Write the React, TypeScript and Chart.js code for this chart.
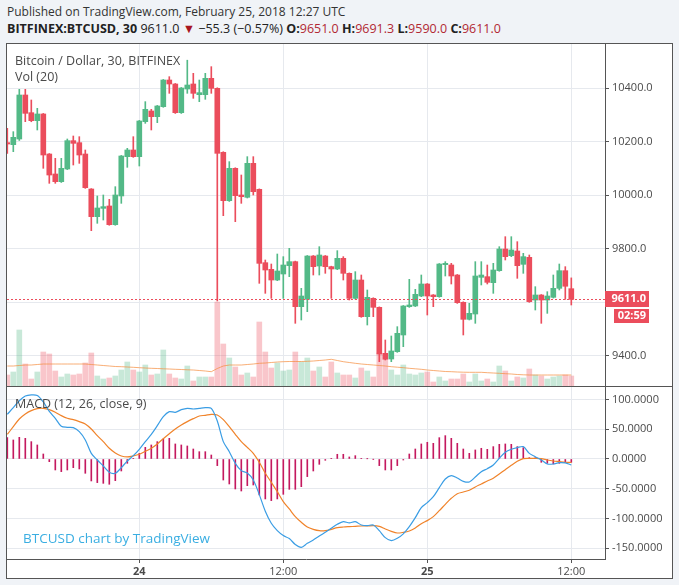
import React, { useEffect, useRef } from "react";
import { Chart, registerables } from "chart.js";
Chart.register(...registerables);

// ---- data (30-minute candles, Feb 23 13:00 -> Feb 25 12:00 UTC) ----
const opens = [10196.8,10189.3,10210.5,10375.0,10308.9,10279.0,10304.0,10154.4,10079.7,10051.0,10098.4,10204.3,10196.8,10154.4,10023.6,9920.2,9951.3,9960.1,9890.3,9997.5,
10144.5,10169.4,10144.5,10275.3,10315.2,10294.0,10331.4,10431.0,10416.1,10308.9,10397.4,10416.1,10376.2,10376.2,10437.3,10399.9,10160.7,9980.0,10100.9,10001.2,
9992.5,10119.5,10022.4,9748.2,9723.3,9683.4,9705.9,9737.0,9752.0,9583.8,9611.2,9773.1,9735.8,9773.1,9733.3,9724.6,9764.5,9708.4,9614.9,9683.4,
9546.4,9614.9,9581.3,9409.3,9388.1,9415.6,9477.9,9583.8,9586.3,9623.6,9668.5,9627.4,9621.1,9740.8,9739.5,9702.1,9600.0,9536.4,9556.3,9693.4,
9695.9,9673.5,9718.3,9799.3,9774.4,9791.8,9742.0,9768.2,9608.7,9627.4,9608.7,9618.6,9652.3,9718.3,9651.0];
const highs = [10250.4,10237.9,10396.2,10396.2,10356.3,10325.1,10306.0,10156.0,10138.2,10138.2,10210.5,10221.7,10219.2,10169.4,10025.0,9997.5,10001.2,9985.0,10032.3,10149.0,
10175.6,10219.2,10280.0,10350.1,10321.4,10336.0,10433.0,10443.5,10418.0,10403.0,10505.0,10456.0,10431.0,10456.0,10480.9,10402.0,10163.0,10125.8,10103.0,10075.9,
10144.5,10144.5,10024.0,9758.2,9743.2,9780.6,9770.7,9801.8,9754.0,9652.3,9775.0,9775.0,9808.0,9775.0,9735.0,9793.1,9770.7,9710.0,9714.6,9702.1,
9646.1,9617.0,9583.0,9459.2,9474.1,9509.0,9588.0,9685.9,9648.6,9702.1,9670.0,9629.0,9745.0,9752.0,9745.7,9704.0,9602.0,9596.2,9752.0,9752.0,
9739.5,9745.7,9808.0,9845.4,9845.4,9826.7,9783.1,9776.9,9658.5,9629.0,9639.8,9702.1,9743.2,9733.3,9691.3];
const lows = [10156.9,10163.2,10205.0,10275.3,10275.0,10244.2,10100.9,10044.8,10044.8,10048.0,10096.0,10113.3,10119.5,10026.0,9867.8,9895.3,9907.7,9888.0,9888.0,9970.0,
10104.6,10142.0,10109.6,10269.0,10244.2,10271.6,10329.0,10381.2,10306.0,10306.0,10381.2,10362.5,10350.1,10358.8,10381.2,9605.0,9923.9,9977.0,9901.5,9970.0,
9990.0,10001.2,9671.0,9633.6,9614.9,9681.0,9614.9,9695.9,9521.5,9533.9,9565.1,9702.1,9702.1,9708.4,9614.9,9722.0,9683.4,9608.7,9612.0,9544.0,
9515.2,9546.4,9378.2,9384.4,9378.2,9413.0,9434.2,9581.0,9584.0,9621.0,9552.6,9583.8,9619.0,9698.4,9668.5,9596.0,9477.9,9534.0,9521.5,9664.8,
9668.5,9633.6,9716.0,9758.2,9770.7,9689.7,9708.4,9600.0,9571.3,9521.5,9558.8,9616.0,9646.1,9611.2,9590.0];
const closes = [10191.8,10216.7,10375.0,10306.4,10279.0,10304.0,10150.7,10075.9,10051.0,10100.9,10204.3,10194.3,10150.7,10028.6,9920.2,9952.6,9957.6,9890.3,10001.2,10147.0,
10169.4,10144.5,10277.8,10321.4,10294.0,10333.9,10431.0,10416.1,10308.9,10401.1,10412.3,10381.2,10383.7,10437.3,10399.9,10156.9,9980.0,10100.9,9998.7,9994.9,
10119.5,10013.6,9745.7,9720.8,9683.4,9717.1,9739.5,9752.0,9583.8,9623.6,9773.1,9733.3,9776.9,9733.3,9724.6,9764.5,9708.4,9614.9,9683.4,9546.4,
9618.6,9581.3,9406.8,9386.9,9418.1,9484.1,9586.3,9590.0,9629.9,9668.5,9623.6,9621.1,9743.2,9745.7,9698.4,9598.7,9536.4,9558.8,9698.4,9702.1,
9674.7,9720.8,9799.3,9770.7,9795.6,9737.0,9770.7,9602.5,9627.4,9608.7,9623.6,9652.3,9718.3,9660.0,9611.0];
const volumes = [440,560,2240,880,280,560,1360,1280,600,360,480,440,480,920,1320,400,280,320,400,640,
960,640,560,840,440,480,1440,480,320,280,800,200,360,360,360,3360,1680,1120,760,440,
520,360,2560,1360,720,920,600,640,1360,960,1120,600,760,360,960,520,440,440,320,720,
600,360,1320,1040,640,440,840,480,440,520,560,160,360,200,280,280,480,160,480,200,
280,160,800,600,200,360,320,680,440,400,280,360,400,440,400];
const volumeMA = [800,800,820,840,840,860,880,880,880,880,880,880,880,880,860,840,820,800,780,772,
760,748,732,720,708,700,688,680,668,660,648,640,620,600,572,700,800,840,840,840,
860,880,908,920,940,960,972,980,980,980,988,1000,1020,1040,1068,1020,972,940,908,880,
860,840,820,800,772,752,732,708,688,668,640,620,600,580,572,560,552,548,548,548,
532,520,508,492,480,460,448,440,440,440,440,440,440,440,440];
const macdLine = [75.2,86.4,98,106,108,107,96,80,68.5,55,53.3,52.7,46,32,9.5,-1.7,-11.8,-22.4,-24.1,-14.6,-3.4,5.6,16.3,29.2,41.5,56.1,71.3,79.7,78.6,83,85.3,84.2,85.3,
86.4,85.3,64,29.2,12.3,-7.3,-19.6,-23.6,-35.4,-60,-88,-108.3,-120.7,-129,-134,-144,-148.7,-142,-136.4,-129.6,-123.5,-116.7,-110,-105.5,-107.7,-105.5,-111.1,-112.2,-111.1,-120.7,-132.4,-137.5,-133.6,-126,
-113.9,-98.8,-82,-73.5,-63.4,-48.3,-33.7,-28,-32,-37.6,-38.7,-30.3,-21.3,-16.3,-10.1,1.1,11.2,16.3,19.1,20.8,9.5,3.9,-1.7,-8.4,-8.4,-6.2,-6.7,-10.1];
const signalLine = [41.5,54.4,67.3,75.8,81.4,84.7,85.3,83,78.6,73,68.5,66.2,62.9,58.9,50.5,39.3,29.2,18,10.1,5.1,3.4,5.1,7.9,12.9,18,25.3,34.2,42.6,50.5,57.2,62.9,67.9,72.4,
73.5,75.2,74.1,66.2,54.4,41.5,29.2,19.6,9.5,-5.6,-24.1,-39.3,-55,-71.8,-84.2,-97.1,-106.6,-114.5,-118.4,-120.7,-120.7,-118.4,-115.6,-114.5,-113.9,-113.4,-112.8,-112.8,-112.2,-113.4,-117.8,-121.8,-124.6,-123.5,
-121.2,-116.2,-108.9,-103.8,-97.1,-87,-76.3,-66.2,-58.4,-55.6,-52.7,-47.1,-42.1,-37,-32.5,-25.3,-18,-10.7,-3.9,0.6,1.1,1.1,0.6,-1.7,-3.4,-4.5,-5.6,-5.6];
const macdHist = [35.9,32,36.5,34.8,29.2,23.6,8.4,-4.5,-18.5,-21.3,-18.5,-14.6,-16.8,-24.1,-37,-39.8,-41,-42.6,-36.5,-20.2,-7.3,0.5,9.5,19.6,23.6,29.2,33.7,34.8,25.3,23.6,21.9,16.8,12.3,
12.3,6.7,-11.2,-35.4,-42.1,-50.5,-53.9,-44.9,-43.8,-60.6,-67.3,-70.1,-67.3,-59.5,-51.1,-51.1,-46.6,-29.7,-20.2,-9,-2.2,0.5,7.9,7.9,3.4,5.6,0.5,0.3,-0.3,-11.2,-18.5,-18.5,-11.2,-1.7,
8.4,16.8,25.3,28.1,26.4,35.9,39.3,34.8,26.4,16.8,9.5,15.2,18,16.3,20.8,24.7,25.3,24.7,20.8,19.1,2.2,2.2,-5.6,-7.3,-8.4,-7.3,-5.6,-5.6];
const timeTickIndex = [22, 46, 70, 94];
const timeTickLabels = ["24", "12:00", "25", "12:00"];
const countdownLabel = "02:59";

// ---- styles ----
const FONT = "'Open Sans', 'Noto Sans', sans-serif";
const GREEN = "#53b987";
const RED = "#eb4d5c";
const GRID = "#e6e9ee";
const AXIS = "#555555";
const TEXT = "#4a4a4a";

const X_MIN = -0.05;
const X_MAX = 99.617;

const lastPricePlugin = {
  id: "lastPrice",
  afterDatasetsDraw(chart: any) {
    const y = chart.scales.y;
    const a = chart.chartArea;
    const ctx = chart.ctx;
    const py = Math.round(y.getPixelForValue(closes[closes.length - 1])) + 0.5;
    ctx.save();
    ctx.strokeStyle = RED;
    ctx.lineWidth = 1;
    ctx.setLineDash([2, 2]);
    ctx.beginPath();
    ctx.moveTo(a.left, py);
    ctx.lineTo(a.right, py);
    ctx.stroke();
    ctx.restore();
  },
  afterDraw(chart: any) {
    const y = chart.scales.y;
    const a = chart.chartArea;
    const ctx = chart.ctx;
    const last = closes[closes.length - 1];
    const py = Math.round(y.getPixelForValue(last));
    ctx.save();
    ctx.fillStyle = RED;
    ctx.fillRect(a.right, py - 8, 44, 16);
    ctx.fillRect(a.right + 9, py + 10, 35, 14);
    ctx.fillStyle = "#ffffff";
    ctx.font = `bold 11px ${FONT}`;
    ctx.textBaseline = "middle";
    ctx.textAlign = "right";
    ctx.fillText(last.toFixed(1), a.right + 41, py);
    ctx.fillText(countdownLabel, a.right + 41, py + 17);
    ctx.restore();
  },
};

export default function App() {
  const mainRef = useRef<HTMLCanvasElement>(null);
  const macdRef = useRef<HTMLCanvasElement>(null);

  useEffect(() => {
    Chart.defaults.font.family = FONT;
    const idx = closes.map((_, i) => i);
    const candleColors = closes.map((c, i) => (c >= opens[i] ? GREEN : RED));
    const volColors = closes.map((c, i) =>
      c >= opens[i] ? "rgba(83,185,135,0.32)" : "rgba(235,77,92,0.32)"
    );
    const xScale = (showTicks: boolean) => ({
      type: "linear" as const,
      min: X_MIN,
      max: X_MAX,
      offset: false,
      afterBuildTicks: (s: any) => {
        s.ticks = timeTickIndex.map((v) => ({ value: v }));
      },
      ticks: {
        display: showTicks,
        autoSkip: false,
        maxRotation: 0,
        color: TEXT,
        padding: 2,
        font: (ctx: any) => {
          const k = ctx.index ?? 0;
          const lbl = timeTickLabels[k] || "";
          return { size: 11, family: FONT, weight: lbl.includes(":") ? "normal" : "bold" };
        },
        callback: (v: any) => {
          const k = timeTickIndex.indexOf(Number(v));
          return k >= 0 ? timeTickLabels[k] : "";
        },
      },
      grid: {
        color: GRID,
        offset: false,
        drawTicks: showTicks,
        tickLength: 4,
        tickColor: AXIS,
      },
      border: { display: showTicks, color: AXIS },
      afterFit: (s: any) => {
        s.height = showTicks ? 19 : 0;
        s.paddingLeft = 0;
        s.paddingRight = 0;
      },
    });

    const main = new Chart(mainRef.current!, {
      type: "bar",
      data: {
        datasets: [
          {
            type: "bar",
            label: "body",
            data: idx.map((i) => ({ x: i, y: [opens[i], closes[i]] })) as any,
            backgroundColor: candleColors,
            barThickness: 5,
            grouped: false,
            borderWidth: 0,
            borderSkipped: false,
            yAxisID: "y",
            order: 1,
          },
          {
            type: "bar",
            label: "wick",
            data: idx.map((i) => ({ x: i, y: [lows[i], highs[i]] })) as any,
            backgroundColor: candleColors,
            barThickness: 1,
            grouped: false,
            borderWidth: 0,
            borderSkipped: false,
            yAxisID: "y",
            order: 2,
          },
          {
            type: "line",
            label: "volMA",
            data: idx.map((i) => ({ x: i, y: volumeMA[i] })) as any,
            borderColor: "rgba(245,140,60,0.7)",
            borderWidth: 1,
            pointRadius: 0,
            tension: 0,
            yAxisID: "yv",
            order: 3,
          },
          {
            type: "bar",
            label: "volume",
            data: idx.map((i) => ({ x: i, y: volumes[i] })) as any,
            backgroundColor: volColors,
            barThickness: 5,
            grouped: false,
            borderWidth: 0,
            yAxisID: "yv",
            order: 4,
          },
        ],
      },
      options: {
        animation: false,
        responsive: true,
        maintainAspectRatio: false,
        layout: { padding: 0 },
        plugins: { legend: { display: false }, tooltip: { enabled: false } },
        events: [],
        scales: {
          x: xScale(false) as any,
          y: {
            position: "right",
            min: 9287.2,
            max: 10565.6,
            ticks: {
              stepSize: 200,
              includeBounds: false,
              color: TEXT,
              padding: 3,
              font: { size: 11, family: FONT },
              callback: (v: any) => (Number(v) === 9600 ? "" : Number(v).toFixed(1)),
            },
            grid: { color: GRID, tickColor: AXIS, tickLength: 4 },
            border: { display: true, color: AXIS },
            afterFit: (s: any) => {
              s.width = 67;
              s.paddingTop = 0;
              s.paddingBottom = 0;
            },
          },
          yv: {
            display: false,
            min: 0,
            max: 13680,
          },
        },
      },
      plugins: [lastPricePlugin],
    });

    const macd = new Chart(macdRef.current!, {
      type: "bar",
      data: {
        datasets: [
          {
            type: "line",
            label: "MACD",
            data: idx.map((i) => ({ x: i, y: macdLine[i] })) as any,
            borderColor: "#3a9de4",
            borderWidth: 1.2,
            pointRadius: 0,
            tension: 0.3,
            order: 1,
          },
          {
            type: "line",
            label: "Signal",
            data: idx.map((i) => ({ x: i, y: signalLine[i] })) as any,
            borderColor: "#f0832a",
            borderWidth: 1.2,
            pointRadius: 0,
            tension: 0.3,
            order: 2,
          },
          {
            type: "bar",
            label: "Histogram",
            data: idx.map((i) => ({ x: i, y: macdHist[i] })) as any,
            backgroundColor: "#c4195f",
            barThickness: 1,
            grouped: false,
            borderWidth: 0,
            order: 3,
          },
        ],
      },
      options: {
        animation: false,
        responsive: true,
        maintainAspectRatio: false,
        layout: { padding: 0 },
        plugins: { legend: { display: false }, tooltip: { enabled: false } },
        events: [],
        scales: {
          x: xScale(true) as any,
          y: {
            position: "right",
            min: -168.4,
            max: 121.2,
            ticks: {
              stepSize: 50,
              includeBounds: false,
              color: TEXT,
              padding: 3,
              font: { size: 11, family: FONT },
              callback: (v: any) => Number(v).toFixed(4),
            },
            grid: { color: GRID, tickColor: AXIS, tickLength: 4 },
            border: { display: true, color: AXIS },
            afterFit: (s: any) => {
              s.width = 67;
              s.paddingTop = 0;
              s.paddingBottom = 0;
            },
          },
        },
      },
    });

    return () => {
      main.destroy();
      macd.destroy();
    };
  }, []);

  const red = { color: "#b22833" };
  return (
    <div
      style={{
        position: "absolute",
        left: 0,
        top: 0,
        width: 679,
        height: 585,
        background: "#f0f3f7",
        fontFamily: FONT,
        overflow: "hidden",
      }}
    >
      <div style={{ position: "absolute", left: 7, top: 3, fontSize: 12, lineHeight: "18px", color: "#333", whiteSpace: "nowrap" }}>
        Published on TradingView.com, February 25, 2018 12:27 UTC
      </div>
      <div style={{ position: "absolute", left: 7, top: 20, fontSize: 12.5, lineHeight: "18px", color: "#222", whiteSpace: "nowrap" }}>
        <b>BITFINEX:BTCUSD, 30</b> 9611.0 <span style={{ color: "#a8151f" }}>▼</span> −55.3 (−0.57%){" "}
        <b>O:</b><span style={red}>9651.0</span> <b>H:</b><span style={red}>9691.3</span>{" "}
        <b>L:</b><span style={red}>9590.0</span> <b>C:</b><span style={red}>9611.0</span>
      </div>
      <div
        style={{
          position: "absolute",
          left: 6,
          top: 43,
          width: 665,
          height: 534,
          border: `1px solid ${AXIS}`,
          background: "#ffffff",
        }}
      >
        <div style={{ position: "absolute", left: 0, top: 0, width: 665, height: 342 }}>
          <canvas ref={mainRef} />
        </div>
        <div style={{ position: "absolute", left: 0, top: 342, width: 665, height: 1, background: AXIS }} />
        <div style={{ position: "absolute", left: 0, top: 343, width: 665, height: 191 }}>
          <canvas ref={macdRef} />
        </div>
        <div style={{ position: "absolute", left: 8, top: 8, fontSize: 12.5, lineHeight: "18px", color: TEXT, whiteSpace: "nowrap" }}>
          Bitcoin / Dollar, 30, BITFINEX
        </div>
        <div style={{ position: "absolute", left: 8, top: 24, fontSize: 12.5, lineHeight: "18px", color: TEXT, whiteSpace: "nowrap" }}>
          Vol (20)
        </div>
        <div style={{ position: "absolute", left: 8, top: 351, fontSize: 12.5, lineHeight: "18px", color: TEXT, whiteSpace: "nowrap" }}>
          MACD (12, 26, close, 9)
        </div>
        <div style={{ position: "absolute", left: 16, top: 484, fontSize: 13.5, lineHeight: "20px", color: "#3aaee2", whiteSpace: "nowrap" }}>
          BTCUSD chart by TradingView
        </div>
      </div>
    </div>
  );
}
